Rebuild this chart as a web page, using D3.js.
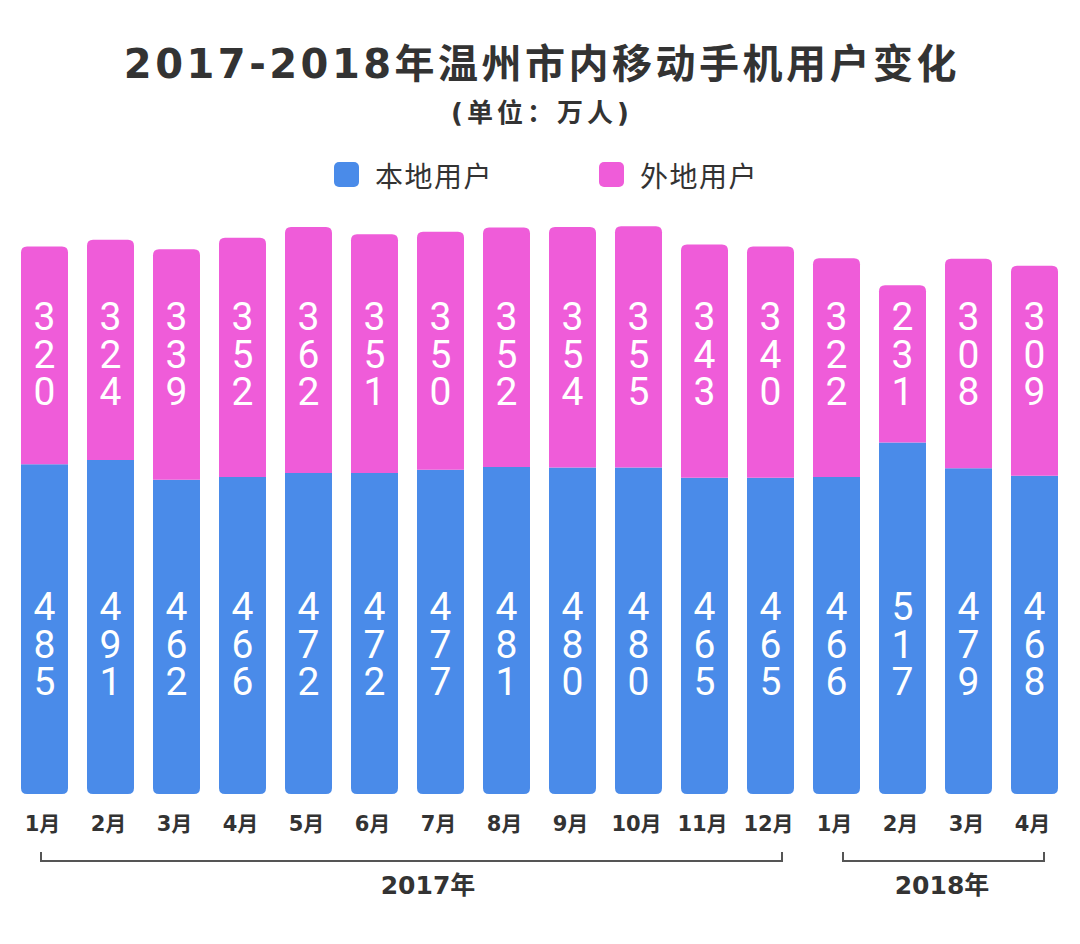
<!DOCTYPE html>
<html><head><meta charset="utf-8">
<script src="https://cdn.jsdelivr.net/npm/d3@7"></script>
<style>body{margin:0;background:#fff;} svg{display:block;}</style>
</head><body>
<script>
const categories = ["2017-01","2017-02","2017-03","2017-04","2017-05","2017-06","2017-07","2017-08","2017-09","2017-10","2017-11","2017-12","2018-01","2018-02","2018-03","2018-04"];
const monthLabels = ["1月","2月","3月","4月","5月","6月","7月","8月","9月","10月","11月","12月","1月","2月","3月","4月"];
const localUsers = [485,491,462,466,472,472,477,481,480,480,465,465,466,517,479,468];
const outsideUsers = [320,324,339,352,362,351,350,352,354,355,343,340,322,231,308,309];
const seriesNames = ["本地用户","外地用户"];
const yearGroups = [{year:"2017年", from:0, to:11},{year:"2018年", from:12, to:15}];
const title = "2017-2018年温州市内移动手机用户变化";
const subtitle = "(单位：万人)";

const W=1080,H=944;
const BLUE="#4a8be9", PINK="#ef5cd9", TEXT="#333333";
const CJK="'Noto Sans CJK SC','Noto Sans',sans-serif";
const MIX="'DejaVu Sans','Noto Sans CJK SC',sans-serif";
const svg=d3.select("body").append("svg").attr("width",W).attr("height",H);
svg.append("rect").attr("width",W).attr("height",H).attr("fill","#ffffff");

const x=d3.scaleBand().domain(categories).range([21,1058]).paddingInner(0.288).paddingOuter(0);
const y=d3.scaleLinear().domain([0,850]).range([794,794-850*0.68]);
const bw=x.bandwidth();

const data=categories.map((c,i)=>({c,i,local:localUsers[i],out:outsideUsers[i]}));

function roundTop(x0,y0,w,h,r){return `M${x0},${y0+h}V${y0+r}Q${x0},${y0} ${x0+r},${y0}H${x0+w-r}Q${x0+w},${y0} ${x0+w},${y0+r}V${y0+h}Z`;}
function roundBottom(x0,y0,w,h,r){return `M${x0},${y0}H${x0+w}V${y0+h-r}Q${x0+w},${y0+h} ${x0+w-r},${y0+h}H${x0+r}Q${x0},${y0+h} ${x0},${y0+h-r}Z`;}

// title + subtitle (one text block)
const tt=svg.append("text").attr("text-anchor","middle").attr("font-family",MIX).attr("font-weight",700).attr("fill",TEXT);
tt.append("tspan").attr("x",542).attr("y",64).attr("dominant-baseline","central").attr("font-size",40).attr("letter-spacing",3.5).text(title);
tt.append("tspan").attr("x",542).attr("y",113).attr("dominant-baseline","central").attr("font-size",26).attr("letter-spacing",4).text(subtitle);

// legend
const legendItems=[{name:seriesNames[0],color:BLUE,x:334},{name:seriesNames[1],color:PINK,x:599}];
const lg=svg.selectAll("g.lg").data(legendItems).join("g").attr("class","lg");
lg.append("rect").attr("x",d=>d.x).attr("y",162).attr("width",25).attr("height",25).attr("rx",5).attr("fill",d=>d.color);
lg.append("text").attr("x",d=>d.x+41).attr("y",175).attr("dominant-baseline","central")
  .attr("font-family",CJK).attr("font-size",28).attr("letter-spacing",1.5).attr("fill",TEXT).text(d=>d.name);

// bars
const g=svg.selectAll("g.bar").data(data).join("g").attr("class","bar");
g.append("path").attr("fill",BLUE).attr("d",d=>roundBottom(x(d.c),y(d.local),bw,y(0)-y(d.local),6));
g.append("path").attr("fill",PINK).attr("d",d=>roundTop(x(d.c),y(d.local+d.out),bw,y(d.local)-y(d.local+d.out),6));

// digit labels: one vertical text per value
const digitFont="Roboto,'Noto Sans',sans-serif";
function stacked(sel,val,cy,cx){
  sel.append("text").attr("x",cx).attr("y",cy).attr("text-anchor","middle")
    .style("writing-mode","vertical-rl").style("text-orientation","upright")
    .attr("letter-spacing",-8.5)
    .attr("font-family",digitFont).attr("font-size",39).attr("fill","#ffffff").text(String(val));
}
g.each(function(d){
  const sel=d3.select(this);
  const cx=x(d.c)+bw/2;
  stacked(sel,d.out,350.5,cx);
  stacked(sel,d.local,640.5,cx);
});

// month labels
svg.selectAll("text.month").data(data).join("text").attr("class","month")
  .attr("x",d=>x(d.c)+bw/2-2).attr("y",824).attr("text-anchor","middle").attr("dominant-baseline","central")
  .attr("font-family",MIX).attr("font-weight",700).attr("font-size",21).attr("fill",TEXT).text(d=>monthLabels[d.i]);

// year brackets
const offs=[[20,35],[30,33]];
yearGroups.forEach((yg,k)=>{
  const x1=x(categories[yg.from])+offs[k][0], x2=x(categories[yg.to])+offs[k][1];
  svg.append("path").attr("d",`M${x1},852V861H${x2}V852`).attr("fill","none").attr("stroke","#555").attr("stroke-width",2);
  svg.append("text").attr("x",k===0?428:942).attr("y",885).attr("text-anchor","middle").attr("dominant-baseline","central")
    .attr("font-family",MIX).attr("font-weight",700).attr("font-size",25).attr("fill",TEXT).text(yg.year);
});
</script>
</body></html>
